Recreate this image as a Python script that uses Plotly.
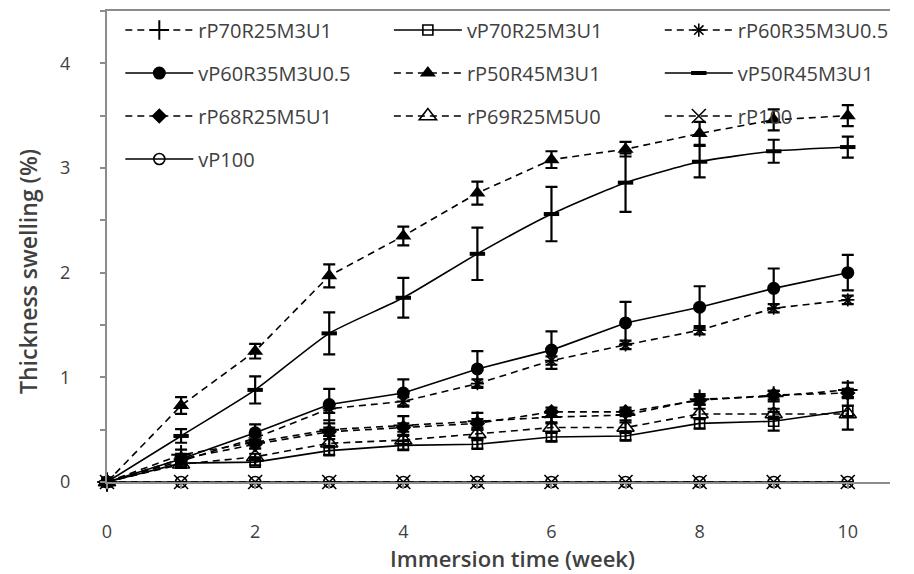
import plotly.graph_objects as go

weeks = [0, 1, 2, 3, 4, 5, 6, 7, 8, 9, 10]

names = ["rP70R25M3U1", "vP70R25M3U1", "rP60R35M3U0.5", "vP60R35M3U0.5",
         "rP50R45M3U1", "vP50R45M3U1", "rP68R25M5U1", "rP69R25M5U0",
         "rP100", "vP100"]

rP70R25M3U1 = [0, 0.26, 0.38, 0.50, 0.54, 0.58, 0.62, 0.64, 0.79, 0.82, 0.88]
rP70R25M3U1_err = [0, 0.05, 0.06, 0.06, 0.09, 0.08, 0.06, 0.05, 0.05, 0.05, 0.07]
vP70R25M3U1 = [0, 0.18, 0.19, 0.30, 0.35, 0.36, 0.43, 0.44, 0.56, 0.58, 0.68]
vP70R25M3U1_err = [0, 0.03, 0.03, 0.04, 0.04, 0.04, 0.04, 0.04, 0.05, 0.09, 0.05]
rP60R35M3U0_5 = [0, 0.20, 0.42, 0.70, 0.77, 0.94, 1.16, 1.31, 1.45, 1.66, 1.74]
rP60R35M3U0_5_err = [0, 0.03, 0.04, 0.04, 0.04, 0.04, 0.04, 0.04, 0.04, 0.04, 0.04]
vP60R35M3U0_5 = [0, 0.22, 0.47, 0.74, 0.85, 1.08, 1.26, 1.52, 1.67, 1.85, 2.00]
vP60R35M3U0_5_err = [0, 0.05, 0.08, 0.15, 0.13, 0.17, 0.18, 0.20, 0.20, 0.19, 0.17]
rP50R45M3U1 = [0, 0.73, 1.25, 1.97, 2.35, 2.76, 3.08, 3.18, 3.33, 3.46, 3.50]
rP50R45M3U1_err = [0, 0.08, 0.07, 0.11, 0.09, 0.11, 0.08, 0.07, 0.11, 0.10, 0.10]
vP50R45M3U1 = [0, 0.44, 0.88, 1.42, 1.76, 2.18, 2.56, 2.86, 3.06, 3.16, 3.20]
vP50R45M3U1_err = [0, 0.065, 0.13, 0.20, 0.19, 0.25, 0.26, 0.28, 0.15, 0.11, 0.10]
rP68R25M5U1 = [0, 0.22, 0.36, 0.48, 0.52, 0.56, 0.67, 0.67, 0.78, 0.83, 0.85]
rP68R25M5U1_err = [0, 0.03, 0.04, 0.04, 0.04, 0.04, 0.04, 0.04, 0.04, 0.04, 0.04]
rP69R25M5U0 = [0, 0.17, 0.24, 0.37, 0.40, 0.46, 0.52, 0.52, 0.65, 0.65, 0.65]
rP69R25M5U0_err = [0, 0.03, 0.03, 0.04, 0.04, 0.04, 0.05, 0.05, 0.05, 0.05, 0.15]
rP100 = [0, 0, 0, 0, 0, 0, 0, 0, 0, 0, 0]
rP100_err = [0, 0, 0, 0, 0, 0, 0, 0, 0, 0, 0]
vP100 = [0, 0, 0, 0, 0, 0, 0, 0, 0, 0, 0]
vP100_err = [0, 0, 0, 0, 0, 0, 0, 0, 0, 0, 0]

x_tick_vals = [0, 2, 4, 6, 8, 10]
y_tick_vals = [0, 1, 2, 3, 4]
x_title = "Immersion time (week)"
y_title = "Thickness swelling (%)"

series = [
    (names[0], rP70R25M3U1, rP70R25M3U1_err, "dash", "cross-thin", 14, 2.0, "legend", "linear"),
    (names[1], vP70R25M3U1, vP70R25M3U1_err, "solid", "square-open", 10, 1.6, "legend2", "linear"),
    (names[2], rP60R35M3U0_5, rP60R35M3U0_5_err, "dash", "asterisk", 11, 1.6, "legend3", "linear"),
    (names[3], vP60R35M3U0_5, vP60R35M3U0_5_err, "solid", "circle", 13, 0, "legend", "linear"),
    (names[4], rP50R45M3U1, rP50R45M3U1_err, "dash", "triangle-up", 14, 0, "legend2", "linear"),
    (names[5], vP50R45M3U1, vP50R45M3U1_err, "solid", "line-ew", 11, 4.0, "legend3", "spline"),
    (names[6], rP68R25M5U1, rP68R25M5U1_err, "dash", "diamond", 12, 0, "legend", "linear"),
    (names[7], rP69R25M5U0, rP69R25M5U0_err, "dash", "triangle-up-open", 15, 1.6, "legend2", "linear"),
    (names[8], rP100, rP100_err, "dash", "x-thin", 14, 1.6, "legend3", "linear"),
    (names[9], vP100, vP100_err, "solid", "circle-open", 11, 1.6, "legend", "linear"),
]

fig = go.Figure()
for i, (nm, ys, es, dash, sym, size, lw, leg, shape) in enumerate(series):
    fig.add_trace(go.Scatter(
        x=weeks, y=ys, name=nm, mode="lines+markers",
        line=dict(color="black", width=1.6,
                  dash="7px,5px" if dash == "dash" else "solid",
                  shape=shape, smoothing=0.6),
        marker=dict(symbol=sym, size=size, color="black",
                    line=dict(color="black", width=lw)),
        error_y=dict(type="data", array=es, color="black", thickness=2.2, width=6),
        legend=leg, legendgroup="g%d" % i, cliponaxis=False,
    ))

GRAY = "#8c8c8c"
TXT = "#404040"
FONT = "Open Sans"

fig.update_layout(
    width=914, height=574,
    margin=dict(l=107, r=24, t=11, b=92),
    plot_bgcolor="white", paper_bgcolor="white",
    font=dict(family=FONT, size=18, color=TXT),
    xaxis=dict(range=[0, 10.57], tickvals=x_tick_vals, showline=True, linecolor=GRAY,
               linewidth=2, ticks="outside", ticklen=5, tickcolor=GRAY, tickwidth=1.5,
               showgrid=False, zeroline=False, ticklabelstandoff=27,
               tickfont=dict(size=18, color=TXT),
               minor=dict(dtick=1, ticks="outside", ticklen=5, tickcolor=GRAY, tickwidth=1.5)),
    xaxis2=dict(range=[0, 10.57], overlaying="x", side="top", showline=True, linecolor=GRAY,
                linewidth=2, showticklabels=False, ticks="", showgrid=False, zeroline=False),
    yaxis=dict(range=[0, 4.5], tickvals=y_tick_vals, showline=True, linecolor=GRAY,
               linewidth=2, ticks="outside", ticklen=5, tickcolor=GRAY, tickwidth=1.5,
               showgrid=False, zeroline=False, ticklabelstandoff=26,
               tickfont=dict(size=18, color=TXT),
               minor=dict(dtick=0.5, ticks="outside", ticklen=5, tickcolor=GRAY, tickwidth=1.5)),
    annotations=[
        dict(text=x_title, xref="paper", yref="paper", x=(512 - 107) / 783, y=-(558 - 482) / 471,
             xanchor="center", yanchor="middle", showarrow=False,
             font=dict(size=22, color=TXT, weight=600, family=FONT)),
        dict(text=y_title, xref="paper", yref="paper", x=-(107 - 28) / 783, y=(482 - 272) / 471,
             xanchor="center", yanchor="middle", showarrow=False, textangle=-90,
             font=dict(size=23, color=TXT, weight=600, family=FONT)),
    ],
)

leg_common = dict(orientation="v", yanchor="top", xanchor="left", bgcolor="rgba(0,0,0,0)",
                  font=dict(size=20, color=TXT, family=FONT), itemwidth=68,
                  tracegroupgap=14, traceorder="grouped")
fig.update_layout(
    legend=dict(x=0.017, y=1.001, **leg_common),
    legend2=dict(x=0.360, y=1.001, **leg_common),
    legend3=dict(x=0.706, y=1.001, **leg_common),
)

# dummy trace to activate top axis line
fig.add_trace(go.Scatter(x=[None], y=[None], xaxis="x2", showlegend=False, hoverinfo="skip"))

fig.write_html("out.html", post_script="document.body.style.margin='0';",
               config={"displayModeBar": False})
